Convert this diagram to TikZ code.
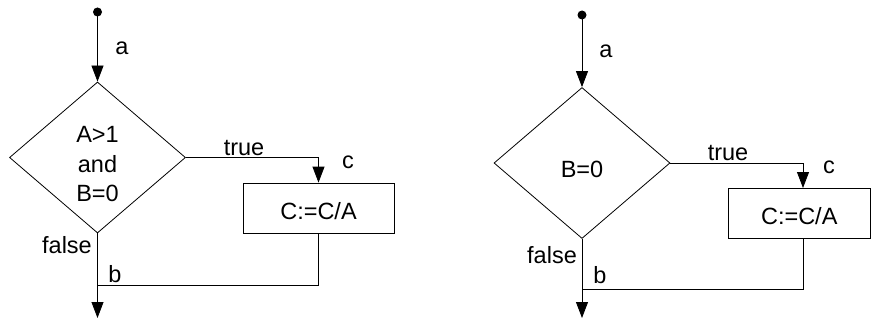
\documentclass[tikz,border=0pt]{standalone}
\usepackage{fontspec}
\setmainfont{Liberation Sans}
\usetikzlibrary{shapes.geometric,arrows.meta}

\begin{document}
\begin{tikzpicture}[x=1pt,y=-1pt,font=\fontsize{23.5}{29.5}\selectfont,line width=0.8pt,
  flow/.style={-{Triangle[length=16pt,width=12pt]}},
  decision/.style={draw,diamond,inner sep=0pt,minimum width=176pt,minimum height=151pt,align=center},
  action/.style={draw,rectangle,inner sep=0pt,minimum width=151pt,minimum height=50pt,text height=24pt}]
  \useasboundingbox (0,0) rectangle (871,321);

  \coordinate (startL) at (97.5,12);
  \node[decision,text height=89pt] (condL) at (97.5,157.5) {A>1\\and\\B=0};
  \node[action] (boxL) at (318.5,208) {C:=C/A};
  \coordinate (joinL) at (97.5,285);
  \coordinate (endL) at (97.5,318);

  \fill (startL) circle (4.5pt);
  \draw[flow] (startL) -- (condL.north);
  \draw[flow] (condL.east) -| (boxL.north);
  \draw (boxL.south) |- (joinL);
  \draw[flow] (condL.south) -- (endL);

  \node[anchor=base] (aL) at (122,55) {a};
  \node[anchor=base] (trueL) at (244,155) {true};
  \node[anchor=base] (cL) at (348,168) {c};
  \node[anchor=base] (falseL) at (67,253) {false};
  \node[anchor=base] (bL) at (115,282) {b};

  \coordinate (startR) at (582,15);
  \node[decision,text height=30pt] (condR) at (582,163) {B=0};
  \node[action,minimum width=142.5pt] (boxR) at (799.25,213) {C:=C/A};
  \coordinate (inR) at (803,188);
  \coordinate (outR) at (803,238);
  \coordinate (joinR) at (582,289);
  \coordinate (endR) at (582,318);

  \fill (startR) circle (4.5pt);
  \draw[flow] (startR) -- (condR.north);
  \draw[flow] (condR.east) -| (inR);
  \draw (outR) |- (joinR);
  \draw[flow] (condR.south) -- (endR);

  \node[anchor=base] (aR) at (606,58) {a};
  \node[anchor=base] (trueR) at (728,160) {true};
  \node[anchor=base] (cR) at (829,173) {c};
  \node[anchor=base] (falseR) at (552,263) {false};
  \node[anchor=base] (bR) at (600,283) {b};
\end{tikzpicture}
\end{document}
